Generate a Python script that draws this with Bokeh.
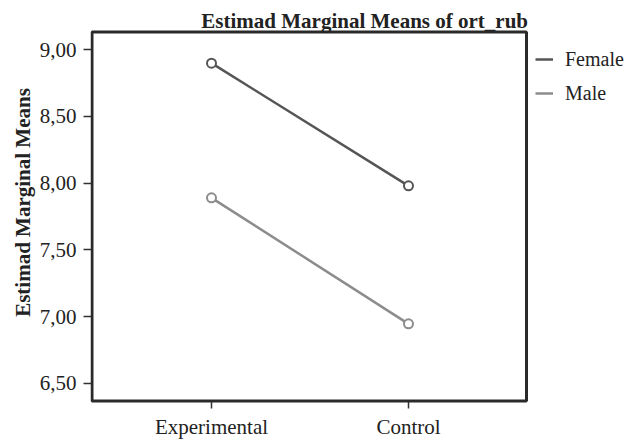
from bokeh.plotting import figure
from bokeh.models import (FixedTicker, Legend, LegendItem, Label, Range1d,
                          BoxAnnotation)
from bokeh.embed import file_html
from bokeh.resources import INLINE

# ---- data ----
groups = ["Experimental", "Control"]
female = [8.90, 7.98]
male = [7.89, 6.945]
series_names = ["Female", "Male"]
y_ticks = [6.5, 7.0, 7.5, 8.0, 8.5, 9.0]
y_tick_labels = ["6,50", "7,00", "7,50", "8,00", "8,50", "9,00"]
title_text = "Estimad Marginal Means of ort_rub"
y_label = "Estimad Marginal Means"

# category positions on the x scale
x_pos = [i + 1 for i in range(len(groups))]

FONT = "Liberation Serif"
C_FEMALE = "#555555"
C_MALE = "#8c8c8c"
TXT = "#222222"

# plotting area: the drawn box (axes frame of the original chart) sits inside
# a wider canvas region so the title and legend can be placed beside it
X_VIEW = (0.3858, 3.1117)
Y_VIEW = (6.3403, 9.3697)
X_BOX = (0.3934, 2.599)
Y_BOX = (6.3665, 9.1335)

p = figure(width=627, height=441,
           x_range=Range1d(*X_VIEW), y_range=Range1d(*Y_VIEW),
           title=None,
           output_backend="svg", toolbar_location=None,
           min_border_left=90, min_border_right=0,
           min_border_top=0, min_border_bottom=37)

p.background_fill_color = "white"
p.border_fill_color = "white"
p.outline_line_color = None
p.xgrid.grid_line_color = None
p.ygrid.grid_line_color = None

box = BoxAnnotation(left=X_BOX[0], right=X_BOX[1], bottom=Y_BOX[0], top=Y_BOX[1],
                    fill_color=None, fill_alpha=0,
                    line_color="#2a2a2a", line_alpha=1.0, line_width=3)
p.add_layout(box)

for ax in (p.xaxis, p.yaxis):
    ax.axis_line_color = None
    ax.major_tick_line_color = "#333333"
    ax.major_tick_line_width = 1.5
    ax.minor_tick_line_color = None
    ax.major_label_text_font = FONT
    ax.major_label_text_font_size = "21px"
    ax.major_label_text_color = TXT

p.xaxis.ticker = FixedTicker(ticks=x_pos)
p.xaxis.major_label_overrides = dict(zip(x_pos, groups))
p.xaxis.major_tick_in = 3
p.xaxis.major_tick_out = 4
p.xaxis.major_label_standoff = 6

p.yaxis.ticker = FixedTicker(ticks=y_ticks)
p.yaxis.major_label_overrides = dict(zip(y_ticks, y_tick_labels))
p.yaxis.major_tick_in = 2
p.yaxis.major_tick_out = 7
p.yaxis.major_label_standoff = 7
p.yaxis.axis_label = y_label
p.yaxis.axis_label_text_font = FONT
p.yaxis.axis_label_text_font_style = "bold"
p.yaxis.axis_label_text_font_size = "21px"
p.yaxis.axis_label_text_color = TXT
p.yaxis.axis_label_standoff = 2

rf = p.line(x_pos, female, line_color=C_FEMALE, line_width=2.5)
p.scatter(x_pos, female, marker="circle", size=9, fill_color="white",
          line_color=C_FEMALE, line_width=2)
rm = p.line(x_pos, male, line_color=C_MALE, line_width=2.5)
p.scatter(x_pos, male, marker="circle", size=9, fill_color="white",
          line_color=C_MALE, line_width=2)

legend = Legend(items=[LegendItem(label=series_names[0], renderers=[rf]),
                       LegendItem(label=series_names[1], renderers=[rm])],
                location=(445, 298))
legend.border_line_color = None
legend.background_fill_alpha = 0
legend.padding = 0
legend.margin = 0
legend.spacing = 8
legend.glyph_width = 18
legend.glyph_height = 26
legend.label_height = 26
legend.label_standoff = 12
legend.label_text_font = FONT
legend.label_text_font_size = "20px"
legend.label_text_color = TXT
p.add_layout(legend)

title = Label(x=X_BOX[1] + 0.0076, y=9.2197, text=title_text,
              text_align="right", text_baseline="alphabetic",
              text_font=FONT, text_font_style="bold", text_font_size="21px",
              text_color=TXT)
p.add_layout(title)

open("out.html", "w").write(file_html(p, INLINE))
